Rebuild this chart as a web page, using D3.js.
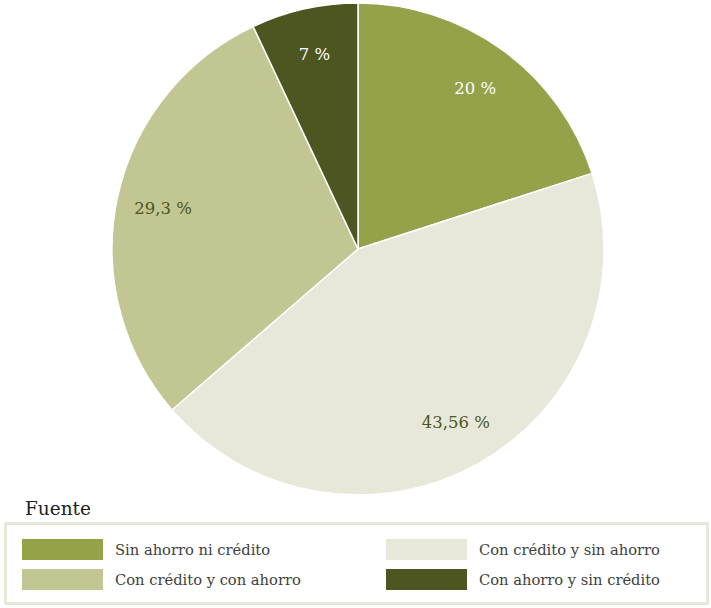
<!DOCTYPE html>
<html>
<head>
<meta charset="utf-8">
<script src="https://cdn.jsdelivr.net/npm/d3@7"></script>
<style>
  html, body { margin: 0; padding: 0; background: #fff; }
  svg { display: block; }
  text { font-family: "DejaVu Serif", "Liberation Serif", serif; }
</style>
</head>
<body>
<svg id="chart" width="711" height="608"></svg>
<script>
// Distribution of households by savings / credit status
const categories = [
  "Sin ahorro ni crédito",
  "Con crédito y sin ahorro",
  "Con crédito y con ahorro",
  "Con ahorro y sin crédito"
];
const values = [20, 43.56, 29.3, 7];
const valueLabels = ["20 %", "43,56 %", "29,3 %", "7 %"];
const colors = ["#95a24a", "#e8e8da", "#c2c692", "#4d5621"];
const labelColors = ["#ffffff", "#4d5621", "#4d5621", "#ffffff"];
// legend order (row-major, two columns)
const legendOrder = [0, 1, 2, 3];

const svg = d3.select("#chart");
const cx = 358, cy = 249, R = 246;

const pie = d3.pie().sort(null).value(d => d)(values);
const arc = d3.arc().innerRadius(0).outerRadius(R);
const labelArc = d3.arc().innerRadius(R * 0.81).outerRadius(R * 0.81);

const g = svg.append("g").attr("transform", `translate(${cx},${cy})`);

g.selectAll("path.slice")
  .data(pie)
  .join("path")
  .attr("class", "slice")
  .attr("d", arc)
  .attr("fill", (d, i) => colors[i])
  .attr("stroke", "#ffffff")
  .attr("stroke-width", 1.5);

g.selectAll("text.val")
  .data(pie)
  .join("text")
  .attr("class", "val")
  .attr("transform", d => `translate(${labelArc.centroid(d)})`)
  .attr("text-anchor", "middle")
  .attr("dy", "0.35em")
  .attr("font-size", 16.5)
  .attr("fill", (d, i) => labelColors[i])
  .text((d, i) => valueLabels[i]);

// Legend
svg.append("text")
  .attr("x", 25).attr("y", 515)
  .attr("font-size", 18.5)
  .attr("fill", "#222")
  .text("Fuente");

svg.append("rect")
  .attr("x", 5.5).attr("y", 523.5)
  .attr("width", 702).attr("height", 80)
  .attr("fill", "#fff")
  .attr("stroke", "#e8e8da")
  .attr("stroke-width", 3);

const colX = [22, 386];
const rowY = [539, 569];
const items = svg.selectAll("g.item")
  .data(legendOrder)
  .join("g")
  .attr("class", "item")
  .attr("transform", (d, k) => `translate(${colX[k % 2]},${rowY[Math.floor(k / 2)]})`);

items.append("rect")
  .attr("width", 81).attr("height", 21)
  .attr("fill", d => colors[d]);

items.append("text")
  .attr("x", 93).attr("y", 16)
  .attr("font-size", 14.7)
  .attr("fill", "#404040")
  .text(d => categories[d]);
</script>
</body>
</html>
